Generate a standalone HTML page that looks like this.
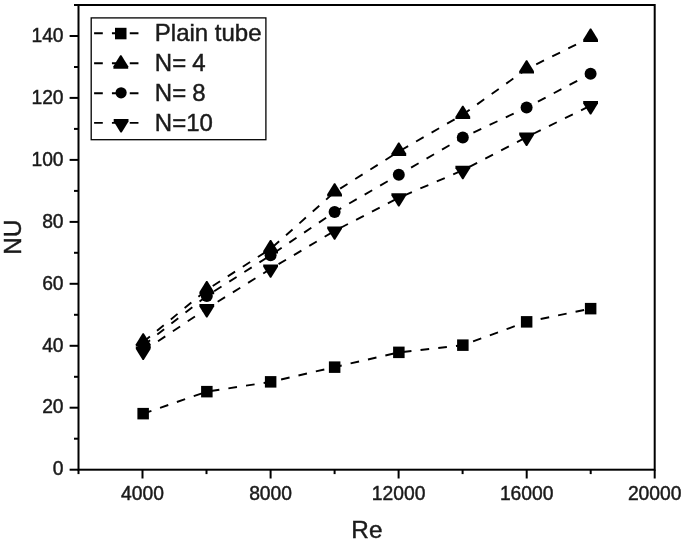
<!DOCTYPE html>
<html lang="en"><head><meta charset="utf-8"><title>NU vs Re</title>
<style>
html,body{margin:0;padding:0;background:#fff;}
body{width:685px;height:541px;overflow:hidden;}
svg{display:block;}
text{font-family:"Liberation Sans",Arial,sans-serif;fill:#1a1a1a;stroke:#1a1a1a;stroke-width:0.45px;}
.tk{font-size:19.3px;}
.lb{font-size:24.3px;}
.lg{font-size:24px;}
.ax{stroke:#000;stroke-width:2;fill:none;}
.ln{stroke:#000;stroke-width:1.9;fill:none;stroke-dasharray:8.7 9.13;}
.mk{fill:#000;stroke:none;}
</style></head><body>
<svg width="685" height="541" viewBox="0 0 685 541">
<rect width="685" height="541" fill="#fff"/>
<rect class="ax" x="78.5" y="5.0" width="576.2" height="464.7"/>
<line class="ax" x1="69.6" y1="469.7" x2="78.5" y2="469.7"/>
<text class="tk" x="63.6" y="475.4" text-anchor="end">0</text>
<line class="ax" x1="74.0" y1="438.7" x2="78.5" y2="438.7"/>
<line class="ax" x1="69.6" y1="407.7" x2="78.5" y2="407.7"/>
<text class="tk" x="63.6" y="413.4" text-anchor="end">20</text>
<line class="ax" x1="74.0" y1="376.8" x2="78.5" y2="376.8"/>
<line class="ax" x1="69.6" y1="345.8" x2="78.5" y2="345.8"/>
<text class="tk" x="63.6" y="351.5" text-anchor="end">40</text>
<line class="ax" x1="74.0" y1="314.8" x2="78.5" y2="314.8"/>
<line class="ax" x1="69.6" y1="283.8" x2="78.5" y2="283.8"/>
<text class="tk" x="63.6" y="289.5" text-anchor="end">60</text>
<line class="ax" x1="74.0" y1="252.8" x2="78.5" y2="252.8"/>
<line class="ax" x1="69.6" y1="221.9" x2="78.5" y2="221.9"/>
<text class="tk" x="63.6" y="227.6" text-anchor="end">80</text>
<line class="ax" x1="74.0" y1="190.9" x2="78.5" y2="190.9"/>
<line class="ax" x1="69.6" y1="159.9" x2="78.5" y2="159.9"/>
<text class="tk" x="63.6" y="165.6" text-anchor="end">100</text>
<line class="ax" x1="74.0" y1="128.9" x2="78.5" y2="128.9"/>
<line class="ax" x1="69.6" y1="97.9" x2="78.5" y2="97.9"/>
<text class="tk" x="63.6" y="103.6" text-anchor="end">120</text>
<line class="ax" x1="74.0" y1="67.0" x2="78.5" y2="67.0"/>
<line class="ax" x1="69.6" y1="36.0" x2="78.5" y2="36.0"/>
<text class="tk" x="63.6" y="41.7" text-anchor="end">140</text>
<line class="ax" x1="74.0" y1="5.0" x2="78.5" y2="5.0"/>
<line class="ax" x1="78.5" y1="469.7" x2="78.5" y2="474.1"/>
<line class="ax" x1="142.5" y1="469.7" x2="142.5" y2="478.5"/>
<text class="tk" x="142.5" y="499.6" text-anchor="middle">4000</text>
<line class="ax" x1="206.5" y1="469.7" x2="206.5" y2="474.1"/>
<line class="ax" x1="270.6" y1="469.7" x2="270.6" y2="478.5"/>
<text class="tk" x="270.6" y="499.6" text-anchor="middle">8000</text>
<line class="ax" x1="334.6" y1="469.7" x2="334.6" y2="474.1"/>
<line class="ax" x1="398.6" y1="469.7" x2="398.6" y2="478.5"/>
<text class="tk" x="398.6" y="499.6" text-anchor="middle">12000</text>
<line class="ax" x1="462.6" y1="469.7" x2="462.6" y2="474.1"/>
<line class="ax" x1="526.7" y1="469.7" x2="526.7" y2="478.5"/>
<text class="tk" x="526.7" y="499.6" text-anchor="middle">16000</text>
<line class="ax" x1="590.7" y1="469.7" x2="590.7" y2="474.1"/>
<line class="ax" x1="654.7" y1="469.7" x2="654.7" y2="478.5"/>
<text class="tk" x="654.7" y="499.6" text-anchor="middle">20000</text>
<text class="lb" x="366.9" y="537.8" text-anchor="middle">Re</text>
<text class="lb" transform="translate(21.0,237.3) rotate(-90)" text-anchor="middle">NU</text>
<polyline class="ln" style="stroke-dasharray:8.7 9.130" points="143.2,413.7 206.8,391.6 270.6,381.9 334.6,367.1 398.8,352.4 462.8,345.2 526.6,321.9 590.6,308.6"/>
<polyline class="ln" style="stroke-dasharray:8.7 9.175" points="143.2,342.1 206.8,289.8 270.6,248.9 334.6,192.1 398.8,151.5 462.8,114.6 526.6,69.1 590.6,37.4"/>
<polyline class="ln" style="stroke-dasharray:8.7 9.190" points="143.2,345.6 206.8,295.9 270.6,255.3 334.6,212.0 398.8,174.8 462.8,137.5 526.6,107.6 590.6,73.7"/>
<polyline class="ln" style="stroke-dasharray:8.7 9.180" points="143.2,351.2 206.8,308.5 270.6,268.9 334.6,230.9 398.8,197.7 462.8,170.3 526.6,137.1 590.6,105.6"/>
<rect class="mk" x="137.4" y="407.9" width="11.5" height="11.5"/>
<rect class="mk" x="201.1" y="385.9" width="11.5" height="11.5"/>
<rect class="mk" x="264.9" y="376.1" width="11.5" height="11.5"/>
<rect class="mk" x="328.9" y="361.4" width="11.5" height="11.5"/>
<rect class="mk" x="393.1" y="346.6" width="11.5" height="11.5"/>
<rect class="mk" x="457.1" y="339.4" width="11.5" height="11.5"/>
<rect class="mk" x="520.9" y="316.1" width="11.5" height="11.5"/>
<rect class="mk" x="584.9" y="302.9" width="11.5" height="11.5"/>
<polygon class="mk" points="142.6,333.2 143.8,333.2 150.6,344.2 150.6,346.6 135.8,346.6 135.8,344.2"/>
<polygon class="mk" points="206.2,280.9 207.4,280.9 214.2,291.9 214.2,294.3 199.4,294.3 199.4,291.9"/>
<polygon class="mk" points="270.0,240.0 271.2,240.0 278.0,251.0 278.0,253.4 263.2,253.4 263.2,251.0"/>
<polygon class="mk" points="334.0,183.2 335.2,183.2 342.0,194.2 342.0,196.6 327.2,196.6 327.2,194.2"/>
<polygon class="mk" points="398.2,142.6 399.4,142.6 406.2,153.6 406.2,156.0 391.4,156.0 391.4,153.6"/>
<polygon class="mk" points="462.2,105.7 463.4,105.7 470.2,116.7 470.2,119.1 455.4,119.1 455.4,116.7"/>
<polygon class="mk" points="526.0,60.2 527.2,60.2 534.0,71.2 534.0,73.6 519.2,73.6 519.2,71.2"/>
<polygon class="mk" points="590.0,28.5 591.2,28.5 598.0,39.5 598.0,41.9 583.2,41.9 583.2,39.5"/>
<circle class="mk" cx="143.2" cy="345.6" r="6.0"/>
<circle class="mk" cx="206.8" cy="295.9" r="6.0"/>
<circle class="mk" cx="270.6" cy="255.3" r="6.0"/>
<circle class="mk" cx="334.6" cy="212.0" r="6.0"/>
<circle class="mk" cx="398.8" cy="174.8" r="6.0"/>
<circle class="mk" cx="462.8" cy="137.5" r="6.0"/>
<circle class="mk" cx="526.6" cy="107.6" r="6.0"/>
<circle class="mk" cx="590.6" cy="73.7" r="6.0"/>
<polygon class="mk" points="135.8,346.7 150.6,346.7 150.6,349.1 143.8,360.1 142.6,360.1 135.8,349.1"/>
<polygon class="mk" points="199.4,304.0 214.2,304.0 214.2,306.4 207.4,317.4 206.2,317.4 199.4,306.4"/>
<polygon class="mk" points="263.2,264.4 278.0,264.4 278.0,266.8 271.2,277.8 270.0,277.8 263.2,266.8"/>
<polygon class="mk" points="327.2,226.4 342.0,226.4 342.0,228.8 335.2,239.8 334.0,239.8 327.2,228.8"/>
<polygon class="mk" points="391.4,193.2 406.2,193.2 406.2,195.6 399.4,206.6 398.2,206.6 391.4,195.6"/>
<polygon class="mk" points="455.4,165.8 470.2,165.8 470.2,168.2 463.4,179.2 462.2,179.2 455.4,168.2"/>
<polygon class="mk" points="519.2,132.6 534.0,132.6 534.0,135.0 527.2,146.0 526.0,146.0 519.2,135.0"/>
<polygon class="mk" points="583.2,101.1 598.0,101.1 598.0,103.5 591.2,114.5 590.0,114.5 583.2,103.5"/>
<rect x="91.2" y="17.9" width="174.7" height="121.8" fill="#fff" stroke="#000" stroke-width="1.3"/>
<line class="ln" x1="94.1" y1="33.3" x2="147.6" y2="33.3"/>
<rect class="mk" x="115.0" y="27.8" width="11.5" height="11.5"/>
<text class="lg" x="154.8" y="41.4" word-spacing="0" xml:space="preserve">Plain tube</text>
<line class="ln" x1="94.1" y1="63.3" x2="147.6" y2="63.3"/>
<polygon class="mk" points="120.2,55.3 121.4,55.3 128.2,66.3 128.2,68.7 113.4,68.7 113.4,66.3"/>
<text class="lg" x="154.8" y="70.7" word-spacing="-0.6" xml:space="preserve">N= 4</text>
<line class="ln" x1="94.1" y1="93.3" x2="147.6" y2="93.3"/>
<circle class="mk" cx="121.1" cy="92.8" r="5.6"/>
<text class="lg" x="154.8" y="100.8" word-spacing="-0.6" xml:space="preserve">N= 8</text>
<line class="ln" x1="94.1" y1="122.9" x2="147.6" y2="122.9"/>
<polygon class="mk" points="113.7,119.1 128.5,119.1 128.5,121.5 121.7,132.5 120.5,132.5 113.7,121.5"/>
<text class="lg" x="154.8" y="131.2" word-spacing="0" xml:space="preserve">N=10</text>
</svg>
</body></html>
